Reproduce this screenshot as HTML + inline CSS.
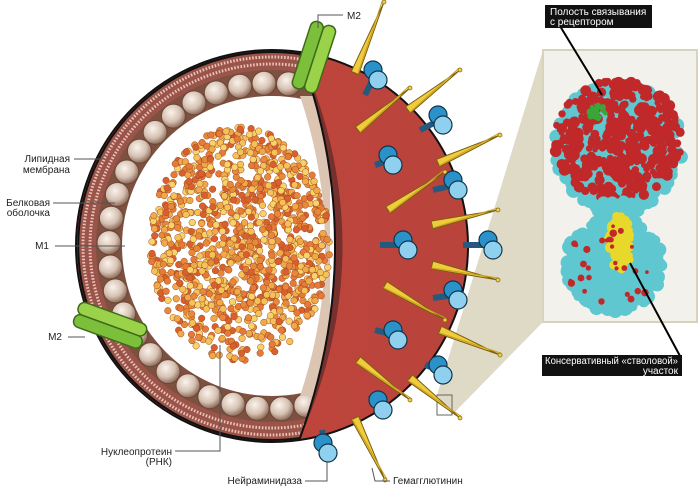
<!DOCTYPE html>
<html><head><meta charset="utf-8"><style>
html,body{margin:0;padding:0;background:#fff;}
svg{display:block;font-family:"Liberation Sans","DejaVu Sans",sans-serif;}
</style></head><body>
<svg id="s" width="700" height="489" viewBox="0 0 700 489" xmlns="http://www.w3.org/2000/svg">
<defs>
<radialGradient id="bead" cx="40%" cy="35%" r="65%"><stop offset="0" stop-color="#fbf3ec"/><stop offset="0.6" stop-color="#d6c1b2"/><stop offset="1" stop-color="#8d6b5a"/></radialGradient>
<clipPath id="cut"><path d="M300,54 A194,194 0 1 0 300,438 Q370,246 300,54Z"/></clipPath>
<linearGradient id="red" x1="0" x2="1"><stop offset="0" stop-color="#c6463a"/><stop offset="1" stop-color="#b8443c"/></linearGradient>
</defs>
<polygon points="437,395 543,50 543,322 452,415" fill="#dedac6"/>
<rect x="437" y="395" width="15" height="20" fill="none" stroke="#666" stroke-width="1"/>
<circle cx="272" cy="246" r="196" fill="url(#red)" stroke="#111" stroke-width="2"/>
<path d="M300,54 Q385,246 300,438 Q370,246 300,54Z" fill="#76302e"/>
<g clip-path="url(#cut)">
<circle cx="272" cy="246" r="196" fill="#9a5449"/>
<circle cx="272" cy="246" r="189" fill="none" stroke="#ebc2b8" stroke-width="3" stroke-dasharray="1.6 1.6"/>
<circle cx="272" cy="246" r="182" fill="none" stroke="#ebc2b8" stroke-width="3" stroke-dasharray="1.6 1.6"/>
<circle cx="272" cy="246" r="176" fill="#7e5040"/>
<g id="beads"></g>
<circle cx="272" cy="246" r="150" fill="#fff"/>
<path d="M300,96 Q350,246 300,396 L330,396 L330,96Z" fill="#dcc5b3"/>
<g id="np"></g>
</g>
<path d="M300,54 A194,194 0 1 0 300,438 Q370,246 300,54Z" fill="none" stroke="#111" stroke-width="2"/>
<g id="spikes"></g>
<g transform="translate(313,60) rotate(18)"><rect x="-13" y="-38" width="13" height="70" rx="6" fill="#7cbf3a" stroke="#3e6b1a" stroke-width="1.5"/><rect x="0" y="-38" width="13" height="70" rx="6" fill="#9ad24a" stroke="#3e6b1a" stroke-width="1.5"/></g>
<g transform="translate(112,326) rotate(-70)"><rect x="-13" y="-38" width="13" height="72" rx="6" fill="#7cbf3a" stroke="#3e6b1a" stroke-width="1.5"/><rect x="0" y="-38" width="13" height="72" rx="6" fill="#9ad24a" stroke="#3e6b1a" stroke-width="1.5"/></g>
<rect x="543" y="50" width="154" height="272" fill="#f2f1ec" stroke="#d8d3bd" stroke-width="2"/>
<g id="prot"></g>
<g stroke="#555" stroke-width="1" fill="none">
<polyline points="318,28 318,15 343,15"/>
<line x1="74" y1="159" x2="105" y2="159"/>
<line x1="53" y1="203" x2="115" y2="203"/>
<line x1="55" y1="246" x2="125" y2="246"/>
<line x1="68" y1="337" x2="85" y2="337"/>
<polyline points="175,451 220,451 220,345"/>
<polyline points="305,481 327,481 327,462"/>
<polyline points="390,481 375,481 372,468"/>
<line x1="560" y1="26" x2="602" y2="95" stroke="#000" stroke-width="2"/>
<line x1="630" y1="263" x2="680" y2="356" stroke="#000" stroke-width="2"/>
</g>
<g font-size="10" fill="#222">
<text x="347" y="19">M2</text>
<text x="70" y="162" text-anchor="end">Липидная</text>
<text x="70" y="173" text-anchor="end">мембрана</text>
<text x="50" y="206" text-anchor="end">Белковая</text>
<text x="50" y="216" text-anchor="end">оболочка</text>
<text x="49" y="249" text-anchor="end">M1</text>
<text x="62" y="340" text-anchor="end">M2</text>
<text x="172" y="455" text-anchor="end">Нуклеопротеин</text>
<text x="172" y="465" text-anchor="end">(РНК)</text>
<text x="302" y="484" text-anchor="end">Нейраминидаза</text>
<text x="393" y="484">Гемагглютинин</text>
</g>
<rect x="545" y="5" width="107" height="23" fill="#111"/>
<text x="550" y="15" font-size="10" fill="#fff">Полость связывания</text>
<text x="550" y="25" font-size="10" fill="#fff">с рецептором</text>
<rect x="542" y="355" width="140" height="21" fill="#111"/>
<text x="545" y="364" font-size="10" fill="#fff" textLength="133" lengthAdjust="spacingAndGlyphs">Консервативный «стволовой»</text>
<text x="678" y="374" font-size="10" fill="#fff" text-anchor="end">участок</text>
</svg>
<script>
var NS="http://www.w3.org/2000/svg";
function el(p,t,a){var e=document.createElementNS(NS,t);for(var k in a)e.setAttribute(k,a[k]);p.appendChild(e);return e;}
var seed=7;function rnd(){seed=(seed*16807)%2147483647;return seed/2147483647;}
var b=document.getElementById('beads');
for(var t=78;t<=282;t+=8.6){var a=t*Math.PI/180;el(b,'circle',{cx:272+163*Math.cos(a),cy:246+163*Math.sin(a),r:12,fill:'url(#bead)',stroke:'#6b4636','stroke-width':1});}
var np=document.getElementById('np');var cols=['#e8893a','#f0a848','#f5c25a','#d9602e','#e67a36','#f7d36a'];
for(var i=0;i<1300;i++){var x,y;do{x=rnd()*2-1;y=rnd()*2-1;}while(x*x+y*y>1);
var px=240+x*90,py=245+y*118;if(py>310&&rnd()<0.4)continue;
el(np,'circle',{cx:px,cy:py,r:3.3,fill:cols[Math.floor(rnd()*6)],stroke:'#a04a20','stroke-width':0.5});}
var sp=document.getElementById('spikes');
var ha=[[355,73,384,2],[358,130,410,88],[408,110,460,70],[438,163,500,135],[388,210,445,172],[432,225,498,210],[432,265,498,280],[385,285,445,320],[440,330,500,355],[358,360,410,400],[410,378,460,418],[355,418,385,480]];
ha.forEach(function(h){var dx=h[2]-h[0],dy=h[3]-h[1],L=Math.hypot(dx,dy),nx=-dy/L,ny=dx/L;
el(sp,'polygon',{points:(h[0]+nx*4)+','+(h[1]+ny*4)+' '+(h[0]-nx*4)+','+(h[1]-ny*4)+' '+h[2]+','+h[3],fill:'#f0cb3c',stroke:'#7a6010','stroke-width':1});
el(sp,'line',{x1:h[0]+nx*3,y1:h[1]+ny*3,x2:h[2]-nx*2,y2:h[3]-ny*2,stroke:'#c9a020','stroke-width':1});
el(sp,'circle',{cx:h[2],cy:h[3],r:2,fill:'#f5d040',stroke:'#7a6010','stroke-width':0.7});});
var na=[[375,75,365,95],[440,120,420,130],[390,160,375,165],[455,185,433,190],[405,245,380,245],[490,245,463,245],[455,295,433,298],[395,335,375,330],[440,370,425,365],[380,405,370,395],[325,448,322,430]];
na.forEach(function(n){el(sp,'line',{x1:n[2],y1:n[3],x2:n[0],y2:n[1],stroke:'#245a80','stroke-width':6});
el(sp,'circle',{cx:n[0]-2,cy:n[1]-5,r:9,fill:'#2a92c8',stroke:'#10344a','stroke-width':1.2});
el(sp,'circle',{cx:n[0]+3,cy:n[1]+5,r:9,fill:'#8fd0ee',stroke:'#10344a','stroke-width':1.2});});
var pr=document.getElementById('prot');
function blob(cx,cy,rx,ry,n,c,s){for(var i=0;i<n;i++){var x,y;do{x=rnd()*2-1;y=rnd()*2-1;}while(x*x+y*y>1);el(pr,'circle',{cx:cx+x*rx,cy:cy+y*ry,r:s*(0.6+rnd()*0.7),fill:c});}}
blob(618,148,64,64,650,'#5fc7d0',6);
blob(618,140,64,60,420,'#c0282a',4.5);
blob(617,210,22,12,60,'#5fc7d0',5);
blob(614,265,48,48,550,'#5fc7d0',6);
blob(620,242,12,28,130,'#e8d82a',4);
blob(612,270,48,46,30,'#c0282a',3);
blob(597,112,10,7,25,'#3aa63a',3);
</script>
</body></html>
